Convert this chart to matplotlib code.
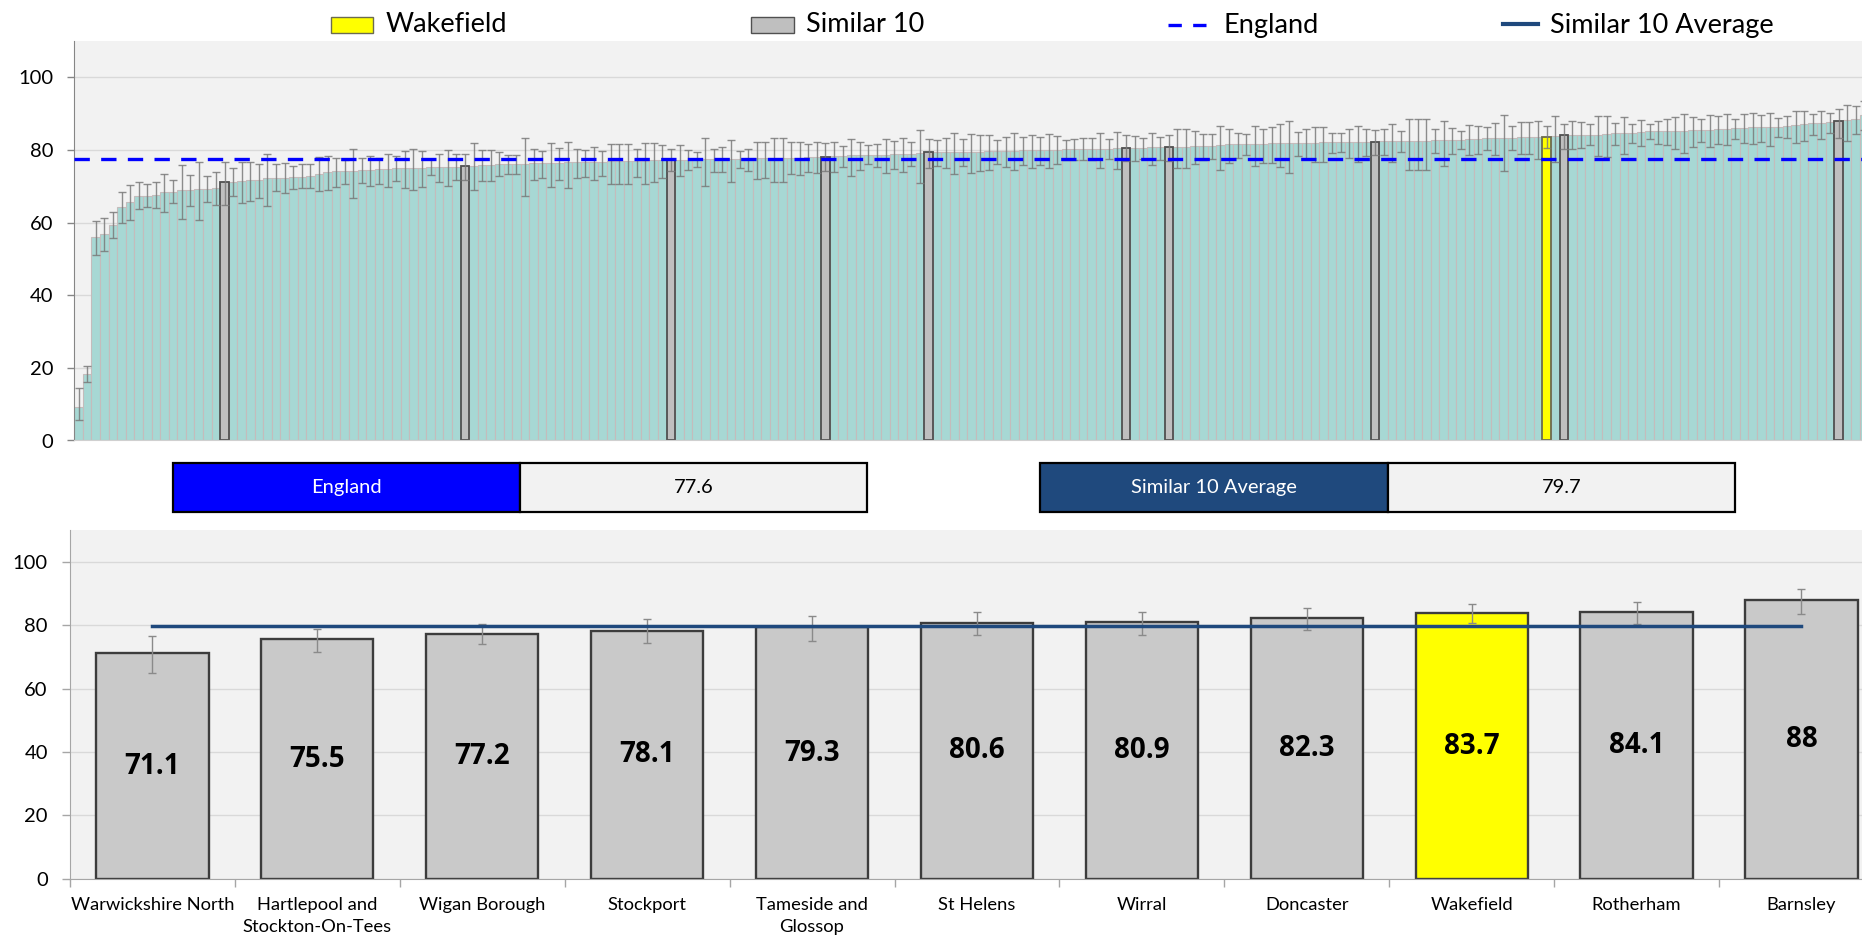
import matplotlib
matplotlib.use("Agg")
import matplotlib.pyplot as plt
from matplotlib.patches import Rectangle
from matplotlib.lines import Line2D
import numpy as np

# ---------------- data ----------------
# all areas, sorted ascending (value, lower CI, upper CI)
all_values = [9.2, 18.3, 56.0, 56.8, 59.3, 64.2, 65.7, 67.4, 67.4, 67.7,
              68.3, 68.5, 68.9, 69.1, 69.2, 69.3, 69.5, 71.1, 71.3, 71.5,
              71.7, 71.8, 72.3, 72.4, 72.4, 72.5, 72.5, 72.9, 73.4, 74.0,
              74.1, 74.1, 74.3, 74.6, 74.6, 74.7, 74.7, 75.0, 75.0, 75.0,
              75.1, 75.3, 75.3, 75.4, 75.4, 75.5, 75.7, 75.8, 75.8, 76.0,
              76.2, 76.2, 76.2, 76.4, 76.4, 76.5, 76.5, 76.6, 76.8, 76.8,
              76.8, 76.8, 76.9, 77.0, 77.0, 77.0, 77.0, 77.1, 77.1, 77.2,
              77.3, 77.3, 77.4, 77.4, 77.5, 77.5, 77.6, 77.6, 77.7, 77.7,
              77.8, 77.8, 77.8, 77.9, 77.9, 78.0, 78.0, 78.1, 78.2, 78.4,
              78.5, 78.5, 78.6, 78.7, 78.7, 78.8, 78.8, 78.9, 79.1, 79.3,
              79.3, 79.4, 79.4, 79.5, 79.5, 79.5, 79.6, 79.6, 79.7, 79.8,
              79.9, 79.9, 79.9, 80.0, 80.1, 80.2, 80.3, 80.3, 80.4, 80.4,
              80.4, 80.5, 80.6, 80.6, 80.6, 80.7, 80.7, 80.9, 80.9, 80.9,
              81.0, 81.1, 81.2, 81.4, 81.6, 81.6, 81.7, 81.7, 81.7, 81.8,
              81.9, 81.9, 81.9, 81.9, 82.0, 82.1, 82.1, 82.2, 82.2, 82.3,
              82.3, 82.3, 82.4, 82.4, 82.4, 82.5, 82.6, 82.6, 82.7, 82.8,
              82.8, 82.8, 83.0, 83.1, 83.2, 83.2, 83.3, 83.4, 83.5, 83.6,
              83.7, 83.7, 83.9, 84.1, 84.2, 84.2, 84.2, 84.2, 84.4, 84.7,
              84.7, 84.8, 84.9, 85.1, 85.1, 85.2, 85.2, 85.3, 85.4, 85.6,
              85.6, 85.8, 85.9, 86.0, 86.1, 86.2, 86.2, 86.3, 86.4, 86.6,
              86.9, 87.1, 87.3, 87.5, 87.6, 88.0, 88.3, 88.6, 89.6]
all_lower = [5.7, 16.1, 51.1, 52.3, 55.8, 59.8, 60.6, 63.7, 64.4, 64.1,
             62.8, 65.4, 61.1, 64.5, 60.8, 65.6, 64.8, 64.9, 67.2, 65.3,
             65.9, 66.9, 64.6, 68.6, 68.2, 69.2, 69.5, 69.4, 68.6, 69.0,
             69.9, 70.5, 66.8, 70.9, 70.2, 70.6, 69.9, 71.5, 69.5, 68.9,
             69.8, 73.0, 71.2, 70.1, 71.7, 71.6, 69.0, 71.4, 71.4, 72.8,
             73.5, 73.3, 67.2, 71.8, 72.4, 69.8, 71.8, 69.4, 72.2, 72.5,
             71.6, 72.8, 70.7, 70.7, 70.7, 72.5, 70.6, 71.3, 72.3, 74.1,
             72.7, 74.5, 75.2, 70.1, 73.9, 73.8, 71.2, 75.1, 74.3, 71.9,
             72.4, 71.2, 71.2, 73.3, 73.2, 73.8, 73.6, 74.3, 73.8, 75.3,
             72.9, 74.4, 76.0, 75.4, 73.7, 74.7, 73.9, 75.6, 70.9, 75.0,
             75.6, 74.9, 73.3, 75.6, 73.7, 74.1, 74.4, 76.1, 75.3, 74.6,
             75.8, 75.0, 75.9, 75.0, 76.2, 77.3, 77.1, 77.1, 77.3, 75.0,
             77.4, 74.7, 76.9, 76.9, 77.5, 75.8, 77.3, 76.9, 75.0, 75.0,
             76.1, 77.1, 77.5, 74.4, 76.4, 77.7, 78.7, 75.5, 76.4, 76.3,
             75.3, 73.6, 78.3, 77.4, 76.8, 76.8, 79.2, 79.4, 77.9, 76.7,
             78.3, 78.5, 78.6, 76.7, 79.5, 74.6, 74.6, 74.6, 79.2, 75.7,
             79.0, 80.4, 78.6, 78.9, 79.9, 78.6, 74.3, 80.0, 78.9, 78.9,
             77.6, 80.6, 76.6, 80.4, 80.3, 80.6, 81.3, 78.3, 78.0, 81.4,
             78.9, 81.8, 81.2, 82.9, 81.7, 81.4, 80.4, 79.2, 80.8, 82.3,
             80.8, 81.7, 81.5, 83.0, 81.9, 81.6, 82.3, 81.1, 83.6, 83.4,
             82.0, 82.6, 84.1, 83.0, 84.7, 83.4, 82.6, 84.4, 85.5]
all_upper = [14.4, 20.4, 60.5, 61.2, 62.8, 68.3, 70.4, 71.1, 70.5, 71.1,
             73.5, 71.7, 75.9, 73.2, 76.6, 72.8, 73.8, 76.7, 75.0, 76.7,
             76.7, 76.2, 79.0, 76.1, 76.4, 75.5, 76.2, 76.1, 78.0, 78.2,
             77.8, 77.2, 80.4, 77.7, 78.2, 77.7, 78.8, 78.2, 79.8, 80.2,
             79.6, 77.6, 79.0, 80.1, 78.8, 78.9, 81.9, 80.0, 80.0, 79.3,
             78.5, 78.5, 83.2, 80.3, 79.8, 81.9, 80.5, 82.2, 80.2, 80.0,
             80.9, 79.8, 81.6, 81.6, 81.6, 80.4, 81.9, 81.9, 81.3, 80.3,
             81.3, 80.1, 79.4, 83.2, 80.4, 80.7, 82.7, 79.7, 80.4, 82.3,
             82.1, 83.2, 83.2, 82.1, 82.1, 81.7, 82.1, 81.8, 82.1, 81.0,
             82.9, 82.2, 81.3, 81.6, 83.0, 82.4, 83.2, 82.1, 85.4, 83.0,
             82.7, 83.2, 84.6, 83.0, 84.4, 84.2, 84.0, 82.8, 83.6, 84.6,
             83.7, 84.2, 83.5, 84.3, 83.8, 82.7, 83.1, 83.2, 83.2, 84.8,
             82.9, 85.0, 84.0, 83.9, 83.2, 84.7, 83.6, 84.0, 85.7, 85.7,
             85.1, 84.4, 84.4, 86.5, 85.7, 84.8, 84.3, 86.5, 85.7, 86.3,
             87.1, 87.9, 84.9, 85.9, 86.2, 86.2, 84.7, 84.7, 85.7, 86.6,
             85.8, 85.5, 85.7, 87.2, 85.1, 88.5, 88.5, 88.5, 85.7, 88.1,
             86.1, 85.1, 86.8, 86.6, 86.2, 87.4, 89.7, 86.5, 87.6, 87.6,
             88.1, 86.5, 89.4, 87.2, 87.9, 87.6, 87.2, 89.3, 89.3, 87.4,
             89.0, 87.2, 88.2, 87.2, 88.1, 88.4, 89.0, 89.9, 89.0, 88.6,
             89.7, 89.4, 89.8, 88.5, 89.8, 90.1, 89.7, 90.3, 88.9, 89.3,
             90.7, 90.6, 89.9, 90.8, 90.2, 91.4, 92.4, 92.0, 93.5]

similar_names = ["Warwickshire North", "Hartlepool and\nStockton-On-Tees", "Wigan Borough",
                 "Stockport", "Tameside and\nGlossop", "St Helens", "Wirral", "Doncaster",
                 "Wakefield", "Rotherham", "Barnsley"]
similar_values = [71.1, 75.5, 77.2, 78.1, 79.3, 80.6, 80.9, 82.3, 83.7, 84.1, 88.0]
similar_lower = [64.9, 71.6, 74.1, 74.3, 75.0, 76.9, 76.9, 78.5, 80.6, 80.4, 83.4]
similar_upper = [76.7, 78.9, 80.3, 81.8, 83.0, 84.0, 84.0, 85.5, 86.5, 87.2, 91.4]
similar_rank = [17, 45, 69, 87, 99, 122, 127, 151, 171, 173, 205]   # position among all areas
focus_name = "Wakefield"

england_value = 77.6
similar_avg = 79.7

# ---------------- figure ----------------
W, H, DPI = 1862, 938, 100
plt.rcParams['font.family'] = ['Lato', 'DejaVu Sans']
fig = plt.figure(figsize=(W / DPI, H / DPI), dpi=DPI)
fig.patch.set_facecolor('white')


def fx(px):
    return px / W


def fy(py):
    return 1 - py / H


BG = '#f2f2f2'
GRID = '#d9d9d9'
TEAL = '#a7d8d4'
GREY = '#bfbfbf'
YELLOW = '#ffff00'
NAVY = '#1f497d'

# ---------------- top chart ----------------
N = len(all_values)
ax1 = fig.add_axes([fx(74.3), fy(440.5), fx(74.3 + N * 8.585) - fx(74.3), (440.5 - 41) / H])
ax1.set_facecolor(BG)
x = np.arange(N)
vals = np.array(all_values)
lo = np.array(all_lower)
hi = np.array(all_upper)

fill = [TEAL] * N
edge = ['#c4bcbc'] * N
lw = [0.8] * N
for r, nm in zip(similar_rank, similar_names):
    fill[r] = YELLOW if nm == focus_name else GREY
    edge[r] = '#6b6b50' if nm == focus_name else '#505050'
    lw[r] = 1.3

bars = ax1.bar(x, vals, width=1.0, color=fill, edgecolor=edge, linewidth=lw, zorder=2)
for r in similar_rank:
    bars[r].set_zorder(2.5)

ax1.errorbar(x, vals, yerr=[vals - lo, hi - vals], fmt='none', ecolor='#7a7a7a',
             elinewidth=1.0, capsize=2.6, capthick=1.0, alpha=0.85, zorder=3)
ax1.axhline(england_value, color='#0000ff', lw=2.4, dashes=(4.6, 3.4), zorder=4)

ax1.set_xlim(-0.5, N - 0.5)
ax1.set_ylim(0, 110)
ax1.set_yticks(range(0, 101, 20))
ax1.set_xticks([])
ax1.tick_params(axis='y', labelsize=14.5, length=5, width=1, color='#868686', pad=10)
ax1.yaxis.grid(True, color=GRID, lw=1)
ax1.set_axisbelow(True)
for s in ['top', 'right']:
    ax1.spines[s].set_visible(False)
ax1.spines['left'].set_color('#868686')
ax1.spines['bottom'].set_color('#d0d0d0')

# ---------------- legend ----------------
fig.add_artist(Rectangle((fx(330.6), fy(33.3)), fx(42.3), (33.3 - 16.7) / H,
                         transform=fig.transFigure, facecolor=YELLOW, edgecolor='#6b6b50', lw=1))
fig.add_artist(Rectangle((fx(751), fy(33.3)), fx(42.7), (33.3 - 16.7) / H,
                         transform=fig.transFigure, facecolor=GREY, edgecolor='#505050', lw=1))
fig.add_artist(Line2D([fx(1168), fx(1206)], [fy(24.7), fy(24.7)], transform=fig.transFigure,
                      color='#0000ff', lw=2.4, dashes=(4.0, 3.4)))
fig.add_artist(Line2D([fx(1502.5), fx(1538)], [fy(24.3), fy(24.3)], transform=fig.transFigure,
                      color=NAVY, lw=3))
leg_font = 19.5
for xp, txt in [(385.5, 'Wakefield'), (805.6, 'Similar 10'), (1224, 'England'),
                (1550, 'Similar 10 Average')]:
    fig.text(fx(xp), fy(25), txt, fontsize=leg_font, ha='left', va='center', color='black')

# ---------------- info boxes ----------------
def info_box(x0, xm, x1, label, value, color):
    y0, y1 = 462.7, 512.0
    fig.add_artist(Rectangle((fx(x0), fy(y1)), fx(xm - x0), (y1 - y0) / H,
                             transform=fig.transFigure, facecolor=color, edgecolor='black', lw=1.6))
    fig.add_artist(Rectangle((fx(xm), fy(y1)), fx(x1 - xm), (y1 - y0) / H,
                             transform=fig.transFigure, facecolor=BG, edgecolor='black', lw=1.6))
    fig.text(fx((x0 + xm) / 2), fy((y0 + y1) / 2), label, color='white', fontsize=14.5,
             ha='center', va='center')
    fig.text(fx((xm + x1) / 2), fy((y0 + y1) / 2), f"{value:g}", color='black', fontsize=14.5,
             ha='center', va='center')


info_box(172.8, 520.4, 867.0, 'England', england_value, '#0000ff')
info_box(1040.0, 1388.0, 1735.0, 'Similar 10 Average', similar_avg, NAVY)

# ---------------- bottom chart ----------------
M = len(similar_names)
ax2 = fig.add_axes([fx(70), fy(878.7), fx(70 + M * 164.9) - fx(70), (878.7 - 530) / H])
ax2.set_facecolor(BG)
xs = np.arange(M)
sv = np.array(similar_values)
sl = np.array(similar_lower)
su = np.array(similar_upper)
bcol = [YELLOW if n == focus_name else '#c9c9c9' for n in similar_names]
ax2.bar(xs, sv, width=0.68, color=bcol, edgecolor='#3c3c3c', linewidth=1.7, zorder=2)
ax2.errorbar(xs, sv, yerr=[sv - sl, su - sv], fmt='none', ecolor='#8a8a8a', elinewidth=1.0,
             capsize=2.7, capthick=1.0, zorder=3)
ax2.plot([xs[0], xs[-1]], [similar_avg, similar_avg], color=NAVY, lw=2.5, zorder=4)
for xi, v in zip(xs, sv):
    ax2.text(xi, v / 2, f"{v:g}", ha='center', va='center', fontsize=20, fontweight='bold',
             family=['Open Sans', 'DejaVu Sans'], color='black', zorder=5)

ax2.set_xlim(-0.5, M - 0.5)
ax2.set_ylim(0, 110)
ax2.set_yticks(range(0, 101, 20))
ax2.set_xticks(xs)
ax2.set_xticklabels(similar_names, fontsize=13.2, linespacing=1.45)
ax2.set_xticks(np.arange(-0.5, M, 1.0), minor=True)
ax2.tick_params(axis='x', which='major', length=0, pad=13)
ax2.tick_params(axis='x', which='minor', length=6, width=1, color='#a6a6a6')
ax2.tick_params(axis='y', labelsize=14.5, length=6, width=1, color='#a6a6a6', pad=10)
ax2.yaxis.grid(True, color=GRID, lw=1)
ax2.set_axisbelow(True)
for s in ['top', 'right']:
    ax2.spines[s].set_visible(False)
ax2.spines['left'].set_color('#a6a6a6')
ax2.spines['bottom'].set_color('#a6a6a6')

fig.savefig('out.png', dpi=DPI, facecolor='white')
